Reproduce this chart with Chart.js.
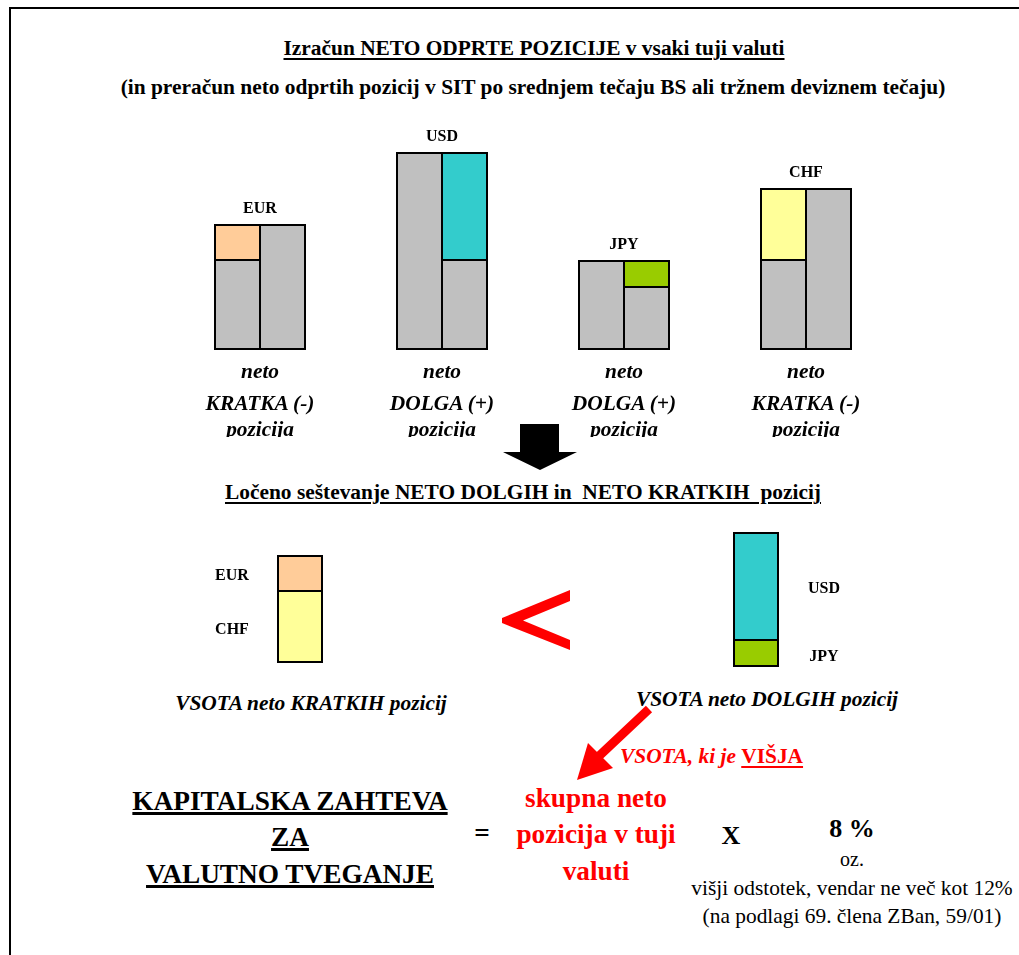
<!DOCTYPE html>
<html>
<head>
<meta charset="utf-8">
<script src="https://cdn.jsdelivr.net/npm/chart.js@4.4.0/dist/chart.umd.min.js"></script>
<style>
  html, body { margin: 0; padding: 0; background: #fff; }
  body { width: 1019px; height: 955px; position: relative; overflow: hidden;
         font-family: "Liberation Serif", "DejaVu Serif", serif; color: #000; }
  .frame { position: absolute; left: 9px; top: 7px; width: 1100px; height: 1000px;
           border-top: 2px solid #000; border-left: 2px solid #000; }
  .t { position: absolute; white-space: pre; line-height: 1.15; transform: translateX(-50%); }
  .b { font-weight: bold; }
  .bi { font-weight: bold; font-style: italic; }
  .u { text-decoration: underline; text-decoration-thickness: 2px; text-underline-offset: 3px; }
  .f21 { font-size: 21.4px; }
  .f27 { font-size: 27.3px; }
  .red { color: #ff0000; }
  .clip { position: absolute; left: 0; top: 340px; width: 1019px; height: 97px; overflow: hidden; }
  canvas { position: absolute; }
</style>
</head>
<body>
<div class="frame"></div>

<div class="t b u f21" style="left:534px;top:36px">Izračun NETO ODPRTE POZICIJE v vsaki tuji valuti</div>
<div class="t b f21" style="left:533px;top:75px">(in preračun neto odprtih pozicij v SIT po srednjem tečaju BS ali tržnem deviznem tečaju)</div>

<canvas id="perCurrency" width="728" height="262" style="left:169px;top:98px"></canvas>

<div class="clip">
  <div class="t bi f21" style="left:260px;top:19px">neto</div>
  <div class="t bi f21" style="left:260px;top:51px">KRATKA (-)</div>
  <div class="t bi f21" style="left:260px;top:77px">pozicija</div>
  <div class="t bi f21" style="left:442px;top:19px">neto</div>
  <div class="t bi f21" style="left:442px;top:51px">DOLGA (+)</div>
  <div class="t bi f21" style="left:442px;top:77px">pozicija</div>
  <div class="t bi f21" style="left:624px;top:19px">neto</div>
  <div class="t bi f21" style="left:624px;top:51px">DOLGA (+)</div>
  <div class="t bi f21" style="left:624px;top:77px">pozicija</div>
  <div class="t bi f21" style="left:806px;top:19px">neto</div>
  <div class="t bi f21" style="left:806px;top:51px">KRATKA (-)</div>
  <div class="t bi f21" style="left:806px;top:77px">pozicija</div>
</div>

<div class="t b u f21" style="left:523px;top:480px">Ločeno seštevanje NETO DOLGIH in  NETO KRATKIH  pozicij</div>

<canvas id="shortSum" width="240" height="126" style="left:180px;top:537px"></canvas>
<canvas id="longSum" width="240" height="144" style="left:636px;top:523px"></canvas>

<div class="t bi f21" style="left:311px;top:691px">VSOTA neto KRATKIH pozicij</div>
<div class="t bi f21" style="left:767px;top:687px">VSOTA neto DOLGIH pozicij</div>

<div class="t f21 red" style="left:620px;top:744px;transform:none"><span class="bi">VSOTA, ki je </span><span class="b u">VIŠJA</span></div>

<div class="t b u f27" style="left:290px;top:786px;text-decoration-thickness:3px;text-underline-offset:2px">KAPITALSKA ZAHTEVA</div>
<div class="t b u f27" style="left:290px;top:822px;text-decoration-thickness:3px;text-underline-offset:2px">ZA</div>
<div class="t b u f27" style="left:290px;top:859px;text-decoration-thickness:3px;text-underline-offset:2px">VALUTNO TVEGANJE</div>

<div class="t b f27" style="left:482px;top:818px">=</div>

<div class="t b f27 red" style="left:596px;top:783px">skupna neto</div>
<div class="t b f27 red" style="left:596px;top:819px">pozicija v tuji</div>
<div class="t b f27 red" style="left:596px;top:856px">valuti</div>

<div class="t b" style="left:731px;top:821px;font-size:26px">X</div>
<div class="t b" style="left:852px;top:814px;font-size:26px">8 %</div>
<div class="t" style="left:852px;top:848px;font-size:20px">oz.</div>
<div class="t f21" style="left:852px;top:876px">višji odstotek, vendar ne več kot 12%</div>
<div class="t f21" style="left:852px;top:904px">(na podlagi 69. člena ZBan, 59/01)</div>

<svg width="1019" height="955" style="position:absolute;left:0;top:0;pointer-events:none">
  <!-- black arrow between the two sections -->
  <polygon points="520,424 559,424 559,452 577,452 540,470 503,452 520,452" fill="#000"/>
  <!-- red "less than" sign -->
  <polygon points="570,590 502,618 502,623 570,650 570,640 523,620.5 570,601" fill="#ff0000"/>
  <!-- red arrow pointing at the total -->
  <line x1="649" y1="709" x2="598" y2="757" stroke="#ff0000" stroke-width="9"/>
  <polygon points="577,780 588,743 613,768" fill="#ff0000"/>
</svg>

<script>
// Position sizes per currency (units of local-currency value converted to SIT)
const currencies = ['EUR', 'USD', 'JPY', 'CHF'];
const leftBase  = [5, 11, 5, 5];     // grey column on the left of each pair
const leftNet   = [2, 0, 0, 4];      // net short position (added on the left)
const rightBase = [7, 5, 3.5, 9];    // grey column on the right of each pair
const rightNet  = [0, 6, 1.5, 0];    // net long position (added on the right)

// Sums of net short and net long positions
const shortLabels = ['CHF', 'EUR'];
const shortValues = [4, 2];
const longLabels  = ['JPY', 'USD'];
const longValues  = [1.5, 6];

const GREY = '#c0c0c0';
const currencyColor = { EUR: '#ffcc99', USD: '#33cccc', JPY: '#99cc00', CHF: '#ffff99' };
const LABEL_FONT = 'bold 16px "Liberation Serif", "DejaVu Serif", serif';

Chart.defaults.font.family = '"Liberation Serif", "DejaVu Serif", serif';

// Border widths so that neighbouring segments share a single 2px line
function edges(ctx) {
  const sets = ctx.chart.data.datasets;
  const di = ctx.datasetIndex, j = ctx.dataIndex, me = sets[di];
  if (!(me.data[j] > 0)) return 0;
  let above = false, below = false;
  sets.forEach((d, k) => {
    if (k === di || d.stack !== me.stack || !(d.data[j] > 0)) return;
    if (k > di) above = true; else below = true;
  });
  return {
    top: above ? 1 : 2,
    bottom: below ? 1 : 2,
    left: me.side === 'R' ? 1 : 2,
    right: me.side === 'L' ? 1 : 2
  };
}

const hiddenScales = (max) => ({
  x: { display: false, stacked: true },
  y: { display: false, stacked: true, min: 0, max: max }
});

const baseOptions = {
  responsive: false,
  animation: false,
  devicePixelRatio: 1,
  plugins: { legend: { display: false }, tooltip: { enabled: false } },
  elements: { bar: { borderColor: '#000', borderSkipped: false, inflateAmount: 0, borderWidth: edges } }
};

// Currency name above each pair of columns
const pairTitles = {
  id: 'pairTitles',
  afterDatasetsDraw(chart) {
    const { ctx } = chart;
    ctx.save();
    ctx.font = LABEL_FONT;
    ctx.fillStyle = '#000';
    ctx.textAlign = 'center';
    ctx.textBaseline = 'middle';
    chart.data.labels.forEach((lab, j) => {
      let top = Infinity;
      chart.data.datasets.forEach((d, k) => {
        if (d.data[j] > 0) top = Math.min(top, chart.getDatasetMeta(k).data[j].y);
      });
      ctx.fillText(lab, chart.scales.x.getPixelForValue(j), top - 15.5);
    });
    ctx.restore();
  }
};

// Currency name beside each segment of a summed column
const segmentNames = {
  id: 'segmentNames',
  afterDatasetsDraw(chart, args, opts) {
    const { ctx } = chart;
    ctx.save();
    ctx.font = LABEL_FONT;
    ctx.fillStyle = '#000';
    ctx.textAlign = 'center';
    ctx.textBaseline = 'middle';
    chart.data.datasets.forEach((d, k) => {
      const el = chart.getDatasetMeta(k).data[0];
      ctx.fillText(d.label, el.x + opts.dx, (el.y + el.base) / 2 + 3);
    });
    ctx.restore();
  }
};

const netColors = currencies.map(c => currencyColor[c]);

new Chart(document.getElementById('perCurrency'), {
  type: 'bar',
  data: {
    labels: currencies,
    datasets: [
      { label: 'L', data: leftBase,  stack: 'L', side: 'L', backgroundColor: GREY },
      { label: 'Lnet', data: leftNet, stack: 'L', side: 'L', backgroundColor: netColors },
      { label: 'R', data: rightBase, stack: 'R', side: 'R', backgroundColor: GREY },
      { label: 'Rnet', data: rightNet, stack: 'R', side: 'R', backgroundColor: netColors }
    ]
  },
  options: Object.assign({}, baseOptions, {
    layout: { padding: { top: 0, bottom: 10, left: 0, right: 0 } },
    datasets: { bar: { barPercentage: 1, categoryPercentage: 92 / 182 } },
    scales: hiddenScales(14)
  }),
  plugins: [pairTitles]
});

function sumChart(id, labels, values, max, dx) {
  new Chart(document.getElementById(id), {
    type: 'bar',
    data: {
      labels: ['sum'],
      datasets: labels.map((l, i) => ({
        label: l, data: [values[i]], stack: 'S', side: 'C', backgroundColor: currencyColor[l]
      }))
    },
    options: Object.assign({}, baseOptions, {
      layout: { padding: 0 },
      datasets: { bar: { barPercentage: 1, categoryPercentage: 46 / 240 } },
      scales: hiddenScales(max),
      plugins: Object.assign({}, baseOptions.plugins, { segmentNames: { dx: dx } })
    }),
    plugins: [segmentNames]
  });
}

sumChart('shortSum', shortLabels, shortValues, 7, -68);
sumChart('longSum', longLabels, longValues, 8, 68);
</script>
</body>
</html>
